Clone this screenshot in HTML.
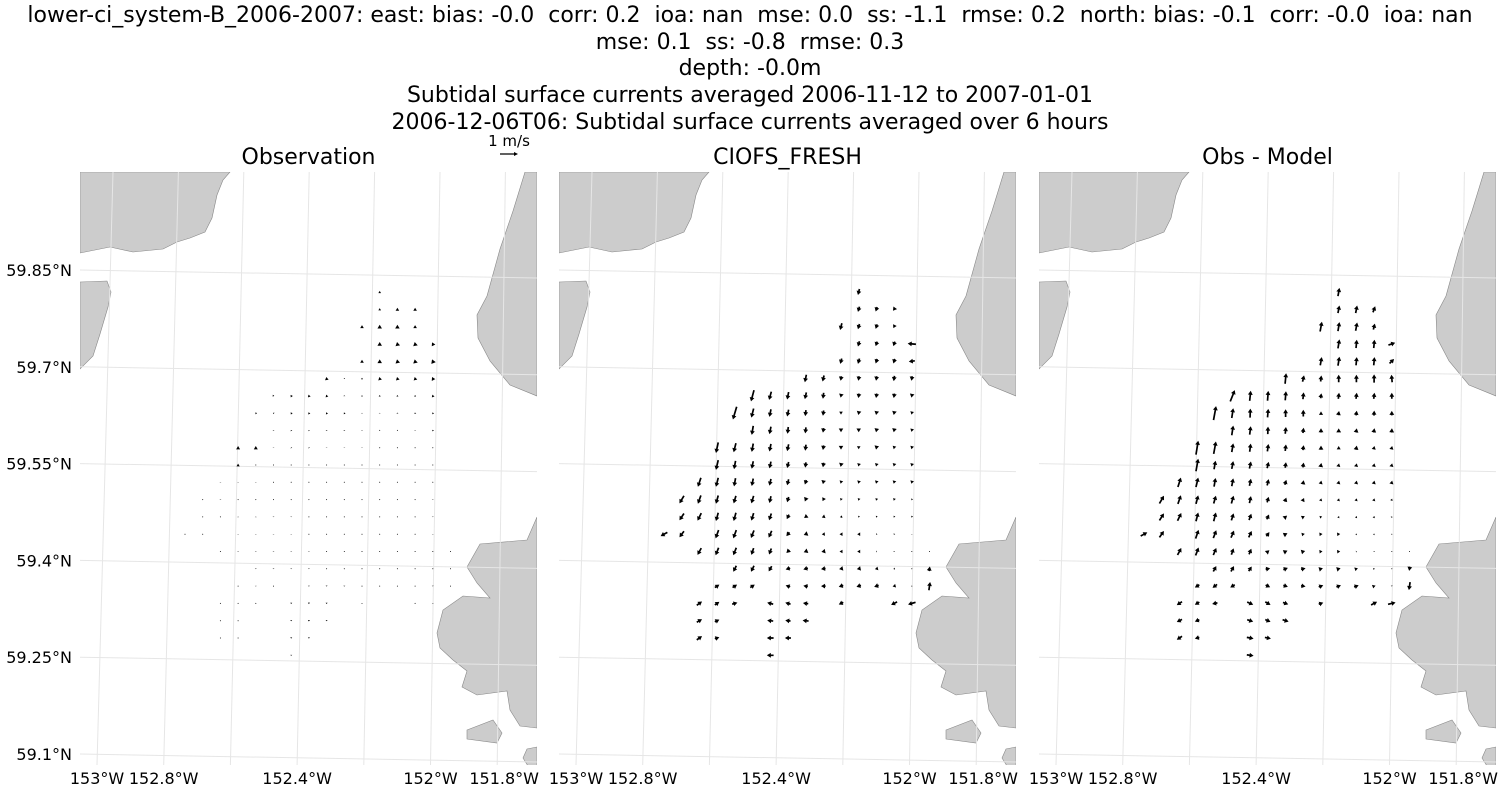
<!DOCTYPE html>
<html><head><meta charset="utf-8">
<style>
body{margin:0;background:#fff;}
svg text{font-family:"DejaVu Sans","Liberation Sans",sans-serif;fill:#000;white-space:pre;}
</style></head>
<body>
<svg id="fig" width="1500" height="800" xmlns="http://www.w3.org/2000/svg">
<rect width="1500" height="800" fill="#fff"/>
<g font-size="22" text-anchor="middle">
<text x="750" y="22" xml:space="preserve">lower-ci_system-B_2006-2007: east: bias: -0.0  corr: 0.2  ioa: nan  mse: 0.0  ss: -1.1  rmse: 0.2  north: bias: -0.1  corr: -0.0  ioa: nan</text>
<text x="750" y="49" xml:space="preserve">mse: 0.1  ss: -0.8  rmse: 0.3</text>
<text x="750" y="75">depth: -0.0m</text>
<text x="750" y="102">Subtidal surface currents averaged 2006-11-12 to 2007-01-01</text>
<text x="750" y="129">2006-12-06T06: Subtidal surface currents averaged over 6 hours</text>
</g>
<g>
<text x="509" y="146" font-size="15" text-anchor="middle">1 m/s</text>
<polygon points="500,153.4 514,153.4 514,152 518,154 514,156 514,154.6 500,154.6" fill="#000"/>
</g>
<g id="panels"></g>
</svg>
<script>
// ---- data ----
const panelTitles = ["Observation", "CIOFS_FRESH", "Obs - Model"];
const latTicks = [59.85, 59.7, 59.55, 59.4, 59.25, 59.1];
const latTickLabels = ["59.85°N", "59.7°N", "59.55°N", "59.4°N", "59.25°N", "59.1°N"];
const lonGrid = [-153.0, -152.8, -152.6, -152.4, -152.2, -152.0, -151.8];
const lonTickLabels = ["153°W", "152.8°W", "", "152.4°W", "", "152°W", "151.8°W"];
const stationRows = [
 [11],[11,12,13],[10,11,12,13],[11,12,13,14],[10,11,12,13,14],
 [8,9,10,11,12,13,14],[5,6,7,8,9,10,11,12,13,14],[4,5,6,7,8,9,10,11,12,13,14],
 [5,6,7,8,9,10,11,12,13,14],[3,4,5,6,7,8,9,10,11,12,13,14],[3,4,5,6,7,8,9,10,11,12,13,14],
 [2,3,4,5,6,7,8,9,10,11,12,13,14],[1,2,3,4,5,6,7,8,9,10,11,12,13,14],[1,2,3,4,5,6,7,8,9,10,11,12,13,14],
 [0,1,3,4,5,6,7,8,9,10,11,12,13,14],[2,3,4,5,6,7,8,9,10,11,12,13,14,15],
 [4,5,6,7,8,9,10,11,12,13,14,15],[3,4,5,7,8,9,10,11,12,13,14,15],
 [2,3,4,6,7,8,10,13,14],[2,3,6,7,8],[2,3,6,7],[6]
];
const obsU = [
 [0],[0,0,0],[0,0,0,0],[0,-.05,-.05,-.1],[0,0,-.05,-.05,-.1],
 [-.03,0,0,-.05,-.05,-.05,-.1],[.1,-.08,-.05,-.05,0,0,0,0,0,-.05],[-.08,-.05,-.08,-.05,-.05,-.05,0,0,0,-.03,-.05],
 [0,-.03,-.03,0,0,0,0,0,0,-.03],[0,0,0,-.03,-.03,0,0,0,0,0,0,0],[0,0,0,0,0,0,0,0,0,0,0,0],
 [0,0,0,0,0,0,0,0,0,0,0,0,0],[0,0,0,0,0,0,0,0,0,0,0,0,0,0],[0,0,0,0,0,0,0,0,0,0,0,0,0,0],
 [-.01,0,0,0,0,0,0,0,0,0,0,0,0,0],[0,0,0,0,0,0,0,0,0,0,0,0,0,0],
 [0,0,0,0,0,0,0,0,0,0,0,0],[0,0,0,0,0,0,0,0,0,0,0,0],
 [0,0,0,0,0,0,0,0,0],[0,0,0,0,0],[0,0,0,0],[0]
];
const obsV = [
 [.15],[.15,.2,.2],[.2,.25,.25,.2],[.25,.25,.25,.2],[.2,.25,.25,.25,.25],
 [.2,.02,.1,.2,.2,.2,.2],[0,.12,.15,.15,.05,.08,.1,.1,.1,.15],[.08,.05,.1,.12,.12,.1,.03,.03,.06,.08,.1],
 [.04,.06,.05,.05,.05,.03,.02,.02,.03,.08],[.22,.22,.03,.04,.04,.03,.03,.03,.02,.02,.02,.02],[.18,.02,.02,.02,.02,.02,.02,.02,.02,.02,.02,.02],
 [.03,.03,.03,.02,.02,.02,.02,.02,.02,.02,.02,.02,.02],[.02,.03,.02,.02,.02,.02,.02,.02,.02,.02,.02,.02,.02,.03],[.02,.02,.03,.03,-.03,-.03,.02,.02,.02,.02,.02,.02,.02,-.03],
 [-.01,.02,.03,-.03,-.03,-.03,.02,.02,.02,.02,.02,.02,.02,-.03],[.02,.03,-.03,-.03,-.03,-.03,.02,.02,.02,.02,.02,.02,.02,.02],
 [-.04,-.04,-.04,-.04,.02,.02,.02,.02,.02,.02,.02,.02],[.02,-.03,.02,-.05,-.06,-.05,.02,.02,.02,.02,-.04,.02],
 [.02,.02,.02,-.08,-.1,-.08,-.04,.02,-.03],[.02,.02,-.08,-.1,-.08],[.02,.02,-.08,-.08],[-.06]
];
const modU = [
 [-.1],[-.1,-.1,-.15],[-.12,-.1,-.1,-.1],[-.1,-.1,-.1,-.55],[-.1,-.1,-.1,-.1,-.4],
 [-.1,-.1,-.05,-.05,-.05,-.05,-.05],[-.2,-.15,-.1,-.1,-.05,-.05,-.05,-.05,-.05,-.05],[-.25,-.15,-.1,-.1,-.05,-.05,0,-.05,-.05,-.05,-.05],
 [-.1,-.1,-.05,-.05,-.05,0,0,-.05,-.05,-.05],[-.15,-.15,-.1,-.1,-.1,-.05,-.05,0,0,-.05,-.05,-.05],[-.15,-.1,-.1,-.1,-.1,-.05,-.05,-.05,-.05,-.05,-.05,-.05],
 [-.2,-.15,-.1,-.1,-.1,-.1,-.1,-.05,-.05,-.05,-.05,-.05,-.05],[-.3,-.2,-.15,-.15,-.15,-.1,-.1,-.1,-.1,-.05,-.05,-.05,-.05,-.05],[-.3,-.25,-.15,-.15,-.15,-.15,-.15,-.2,-.2,-.15,-.05,-.05,-.05,-.05],
 [-.45,-.3,-.2,-.2,-.2,-.2,-.2,-.25,-.2,-.2,-.2,-.05,-.05,0],[-.25,-.2,-.2,-.15,-.15,-.2,-.25,-.25,-.2,-.2,-.05,0,0,0],
 [-.2,-.2,-.2,-.3,-.3,-.3,-.25,-.25,-.2,-.1,0,.05],[.3,.3,.3,-.3,-.3,-.3,-.3,-.3,-.3,-.2,0,.08],
 [.35,.3,.35,-.4,-.35,-.35,-.3,-.4,-.5],[.35,.3,-.4,-.35,-.4],[.35,.3,-.45,-.4],[-.45]
];
const modV = [
 [-.4],[-.35,-.3,-.2],[-.45,-.35,-.3,-.2],[-.35,-.3,-.3,.05],[-.35,-.35,-.3,-.3,-.05],
 [-.5,-.4,-.3,-.3,-.3,-.35,-.3],[-.75,-.55,-.5,-.45,-.4,-.25,-.3,-.3,-.3,-.25],[-.85,-.6,-.5,-.45,-.4,-.35,-.2,-.25,-.25,-.25,-.2],
 [-.6,-.5,-.45,-.4,-.3,-.25,-.25,-.25,-.25,-.2],[-.7,-.6,-.55,-.5,-.45,-.4,-.3,-.25,-.2,-.25,-.2,-.2],[-.65,-.55,-.5,-.45,-.4,-.35,-.3,-.25,-.2,-.2,-.2,-.2],
 [-.6,-.6,-.55,-.5,-.45,-.4,-.3,-.25,-.2,-.2,-.2,-.2,-.2],[-.5,-.55,-.55,-.5,-.5,-.45,-.35,-.25,-.2,-.15,-.15,-.15,-.15,-.1],[-.45,-.5,-.55,-.55,-.5,-.45,-.3,-.15,-.08,-.03,-.1,-.1,-.1,-.1],
 [-.25,-.4,-.55,-.55,-.5,-.45,-.25,-.1,-.02,0,0,-.05,-.05,-.03],[-.45,-.5,-.5,-.45,-.4,-.2,-.1,-.05,0,0,0,0,0,.02],
 [-.4,-.4,-.35,-.1,-.1,-.05,-.05,-.05,-.05,-.02,0,.3],[.2,.2,.2,.1,.05,0,-.1,-.1,-.1,-.05,.02,.55],
 [.25,.2,.1,.1,.1,.05,-.15,-.2,-.15],[.2,.15,.05,.05,.05],[.25,.1,0,0],[0]
];
// ---- geometry ----
const NS = "http://www.w3.org/2000/svg";
const panelX = [80, 559, 1039], PW = 457, PT = 172, PB = 765;
const lat0 = 59.825, dLat = 0.0268, lon0 = -152.735, dLon = 0.0524;
function px(lon){ return (lon - lon0) / dLon * 17.7 + 105; }
function py(lat){ return 292 + (lat0 - lat) / dLat * 17.3; }
function latLineY(lat){ return 270 + (59.85 - lat) / 0.15 * 96.8; }
function lonBottomX(lon){ return 97 + (lon + 153.0) / 0.2 * 66.7; }

const landShapes = [
 [[0,0],[150,0],[143,8],[137,23],[132,46],[125,60],[110,66],[97,70],[83,77],[53,80],[30,75],[0,81]],
 [[0,110],[27,109],[31,120],[28,135],[20,162],[13,184],[0,197]],
 [[445,0],[457,0],[457,224],[430,213],[410,189],[398,166],[397,143],[407,124],[420,77],[433,39]],
 [[457,345],[447,368],[400,372],[387,395],[397,411],[410,426],[383,424],[363,438],[357,461],[360,476],[373,488],[387,499],[382,515],[397,523],[427,519],[430,538],[440,554],[457,556]],
 [[387,558],[413,548],[422,561],[417,571],[387,567]],
 [[457,575],[447,577],[443,586],[448,594],[457,594]]
];

const root = document.getElementById('panels');
function mk(tag, attrs, parent){ const e = document.createElementNS(NS, tag); for (const k in attrs) e.setAttribute(k, attrs[k]); parent.appendChild(e); return e; }

function arrow(g, x, y, u, v){
  const S = 15;
  const L = Math.hypot(u, v) * S;
  if (L < 0.4) { const d = mk('circle', {cx:x, cy:y, r:0.5, fill:'#000'}, g);   return; }
  const ang = Math.atan2(-v, u);
  let w = 0.85, hl = 4.0, hw = 2.4;
  if (L < hl) { const f = L / hl; hl *= f; hw = Math.max(hw*f, 1); w = Math.max(w*f, 0.5); }
  const sl = L - hl;
  const pts = [[0,-w],[sl,-w],[sl,-hw],[L,0],[sl,hw],[sl,w],[0,w]];
  const c = Math.cos(ang), s = Math.sin(ang);
  const x0 = x - L/2*c, y0 = y - L/2*s;
  const p = pts.map(([a,b]) => (x0 + a*c - b*s).toFixed(2) + ',' + (y0 + a*s + b*c).toFixed(2)).join(' ');
  const pl = mk('polygon', {points:p, fill:'#000'}, g);
  
  
}

panelX.forEach((ox, pi) => {
  const g = mk('g', {transform:`translate(${ox},0)`}, root);
  
  
  const cid = 'clip' + pi;
  const cp = mk('clipPath', {id:cid}, g); mk('rect', {x:0, y:PT, width:PW, height:PB-PT}, cp);
  const inner = mk('g', {'clip-path':`url(#${cid})`}, g);
  landShapes.forEach(sh => {
    const p = mk('polygon', {points: sh.map(q => q[0] + ',' + (q[1] + PT)).join(' '), fill:'#cccccc', stroke:'#888', 'stroke-width':0.6}, inner);
    
    
  });
  latTicks.forEach(lat => {
    const y = latLineY(lat);
    const l = mk('line', {x1:0, y1:y, x2:PW, y2:y + 8, stroke:'#e6e6e6', 'stroke-width':1}, inner);
    
    
  });
  lonGrid.forEach((lon, k) => {
    const xb = lonBottomX(lon) - 80;
    const l = mk('line', {x1:xb, y1:PB, x2:xb + 16 - k*1.3, y2:PT, stroke:'#e6e6e6', 'stroke-width':1}, inner);
    
    
  });
  const vg = mk('g', {}, inner);
  
  
  stationRows.forEach((cols, r) => {
    const lat = lat0 - r * dLat;
    cols.forEach((c, i) => {
      const lon = lon0 + c * dLon;
      let u, v;
      if (pi === 0) { u = obsU[r][i]; v = obsV[r][i]; }
      else if (pi === 1) { u = modU[r][i]; v = modV[r][i]; }
      else { u = obsU[r][i] - modU[r][i]; v = obsV[r][i] - modV[r][i]; }
      arrow(vg, px(lon), py(lat), u, v);
    });
  });
  const t = mk('text', {x:PW/2, y:164, 'font-size':22, 'text-anchor':'middle'}, g);
  t.textContent = panelTitles[pi];
  
  
  lonGrid.forEach((lon, k) => {
    if (!lonTickLabels[k]) return;
    const tx = mk('text', {x:lonBottomX(lon) - 80 + (k===6?7:0), y:784, 'font-size':16, 'text-anchor':'middle'}, g);
    tx.textContent = lonTickLabels[k];
    
    
  });
  if (pi === 0) {
    latTicks.forEach((lat, k) => {
      const tx = mk('text', {x:-8, y:latLineY(lat) + 6, 'font-size':16, 'text-anchor':'end'}, g);
      tx.textContent = latTickLabels[k];
      
      
    });
  }
});
</script>
</body></html>
